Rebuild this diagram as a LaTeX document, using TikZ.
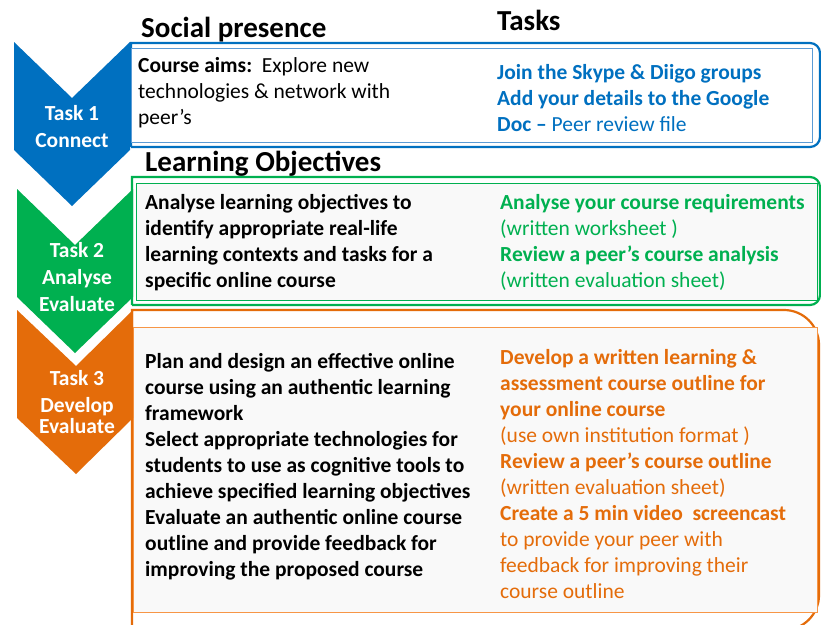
\documentclass[tikz,border=0pt]{standalone}
\usepackage{fontspec}
\setmainfont{Carlito}
\usepackage{xcolor}
\usepackage{tikz}
\usetikzlibrary{positioning}

\definecolor{taskblue}{HTML}{0070C0}
\definecolor{lineblue}{HTML}{5B9BD5}
\definecolor{taskgreen}{HTML}{00B050}
\definecolor{taskorange}{HTML}{E46C0A}
\definecolor{lineorange}{HTML}{F79646}
\definecolor{boxgray}{HTML}{F9F9F9}

\begin{document}
\begin{tikzpicture}[
    x=1pt, y=-1pt,
    heading/.style={font=\fontsize{29}{35}\selectfont\bfseries, inner sep=0pt, anchor=base west},
    body/.style={font=\fontsize{21.5}{26}\selectfont, align=left, inner sep=0pt, anchor=base west},
    chevlabel/.style={font=\fontsize{21.5}{27}\selectfont\bfseries, text=white, align=center, inner sep=0pt, anchor=base},
    frame/.style={line width=2.2pt},
    panel/.style={rectangle, draw, line width=1.2pt, inner sep=0pt, anchor=north west}
]
\clip (0,0) rectangle (821,624);
\fill[white] (0,0) rectangle (821,624);

% Headings
\node[heading] (social) at (141,37) {Social presence};
\node[heading] (tasks) at (497,30) {Tasks};
\node[heading] (objectives) at (145,171) {Learning Objectives};

% Task 1 box (text nodes sit on their last line)
\draw[frame, taskblue] (131,147) -- (131,43) [rounded corners=10pt] -- (820,43) -- (820,147) -- (131,147);
\node[panel, draw=lineblue, fill=white, minimum width=681pt, minimum height=94pt] (box1) at (131,48) {};
\node[body] (aims) at (138,124) {\textbf{Course aims:}~~Explore new\\technologies \& network with\\peer’s};
\node[body, text=taskblue] (todo1) at (497,131) {\textbf{Join the Skype \& Diigo groups}\\\textbf{Add your details to the Google}\\\textbf{Doc –} Peer review file};

% Task 2 box
\draw[frame, taskgreen] (132,305) -- (132,177) [rounded corners=10pt] -- (820,177) -- (820,305) -- (132,305);
\node[panel, draw=taskgreen, fill=boxgray, minimum width=681pt, minimum height=117pt] (box2) at (136,183) {};
\node[body, font=\fontsize{21.5}{26}\selectfont\bfseries] (goals2) at (145,287) {Analyse learning objectives to\\identify appropriate real-life\\learning contexts and tasks for a\\specific online course};
\node[body, text=taskgreen] (todo2) at (500,287) {\textbf{Analyse your course requirements}\\(written worksheet )\\\textbf{Review a peer’s course analysis}\\(written evaluation sheet)};

% Task 3 box
\draw[frame, taskorange] (132,640) -- (132,310) [rounded corners=35pt] -- (819,310) -- (819,630) -- (132,630);
\node[panel, draw=lineorange, fill=boxgray, minimum width=684pt, minimum height=285pt] (box3) at (133,327) {};
\node[body, font=\fontsize{21.5}{26}\selectfont\bfseries] (goals3) at (145,576) {Plan and design an effective online\\course using an authentic learning\\framework\\Select appropriate technologies for\\students to use as cognitive tools to\\achieve specified learning objectives\\Evaluate an authentic online course\\outline and provide feedback for\\improving the proposed course};
\node[body, text=taskorange] (todo3) at (500,598) {\textbf{Develop a written learning \&}\\\textbf{assessment course outline for}\\\textbf{your online course}\\(use own institution format )\\\textbf{Review a peer’s course outline}\\(written evaluation sheet)\\\textbf{Create a 5 min video~~screencast}\\to provide your peer with\\feedback for improving their\\course outline};

% Chevrons
\fill[taskblue] (14,42) -- ++(58,56) -- ++(58,-56) -- ++(0,108) -- ++(-58,56) -- ++(-58,-56) -- cycle;
\fill[taskgreen] (17,189) -- ++(58,56) -- ++(58,-56) -- ++(0,108) -- ++(-58,56) -- ++(-58,-56) -- cycle;
\fill[taskorange] (17,310) -- ++(59,56) -- ++(57,-56) -- ++(0,108) -- ++(-57,56) -- ++(-59,-56) -- cycle;
\node[chevlabel] (task1) at (72,147) {Task 1\\Connect};
\node[chevlabel] (task2) at (77,311) {Task 2\\Analyse\\Evaluate};
\node[chevlabel] (task3) at (77,433) {Task 3\\Develop\\[-6pt]Evaluate};
\end{tikzpicture}
\end{document}
